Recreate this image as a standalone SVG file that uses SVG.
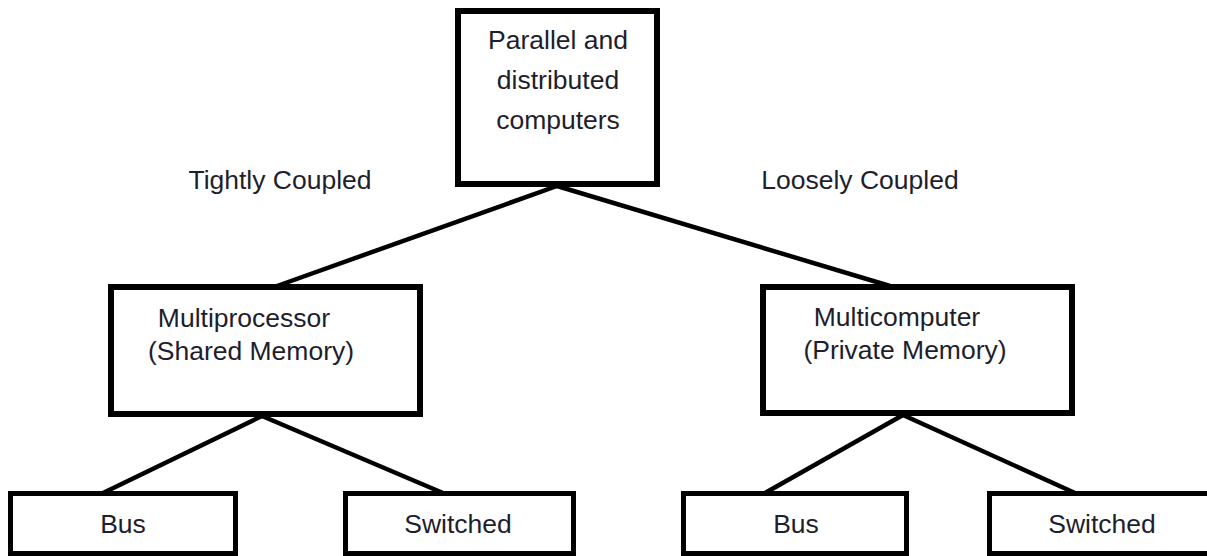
<svg xmlns="http://www.w3.org/2000/svg" width="1207" height="556" viewBox="0 0 1207 556">
<style>
  .box { fill: #ffffff; stroke: #000000; stroke-width: 6; }
  .sbox { fill: #ffffff; stroke: #000000; stroke-width: 5; }
  .edge { stroke: #000000; stroke-width: 4.5; fill: none; stroke-linecap: butt; }
  text { font-family: "Liberation Sans", Arial, sans-serif; font-size: 26.5px; fill: #1e1e2c; text-anchor: middle; }
</style>
<rect x="0" y="0" width="1207" height="556" fill="#ffffff"/>
<g id="connectors">
  <line class="edge" x1="557" y1="186" x2="277" y2="286"/>
  <line class="edge" x1="557" y1="186" x2="890" y2="286"/>
  <line class="edge" x1="262" y1="416" x2="103" y2="493"/>
  <line class="edge" x1="262" y1="416" x2="443" y2="493"/>
  <line class="edge" x1="903" y1="415" x2="765" y2="493"/>
  <line class="edge" x1="903" y1="415" x2="1075" y2="493"/>
</g>
<g id="label-tight"><text x="280" y="189">Tightly Coupled</text></g>
<g id="label-loose"><text x="860" y="189">Loosely Coupled</text></g>
<g id="node-root">
  <rect class="box" x="458" y="11" width="199" height="173"/>
  <text x="558" y="49">Parallel and</text>
  <text x="558" y="89">distributed</text>
  <text x="558" y="129">computers</text>
</g>
<g id="node-multiprocessor">
  <rect class="box" x="111" y="287" width="309" height="127"/>
  <text x="244" y="327">Multiprocessor</text>
  <text x="251" y="360">(Shared Memory)</text>
</g>
<g id="node-multicomputer">
  <rect class="box" x="763" y="287" width="309" height="126"/>
  <text x="897" y="326">Multicomputer</text>
  <text x="905" y="359">(Private Memory)</text>
</g>
<g id="node-bus-left">
  <rect class="sbox" x="10.5" y="493.5" width="225" height="60"/>
  <text x="123" y="533">Bus</text>
</g>
<g id="node-switched-left">
  <rect class="sbox" x="345.5" y="493.5" width="228" height="60"/>
  <text x="458" y="533">Switched</text>
</g>
<g id="node-bus-right">
  <rect class="sbox" x="683.5" y="493.5" width="223" height="60"/>
  <text x="796" y="533">Bus</text>
</g>
<g id="node-switched-right">
  <rect class="sbox" x="989.5" y="493.5" width="230" height="60"/>
  <text x="1102" y="533">Switched</text>
</g>
</svg>
